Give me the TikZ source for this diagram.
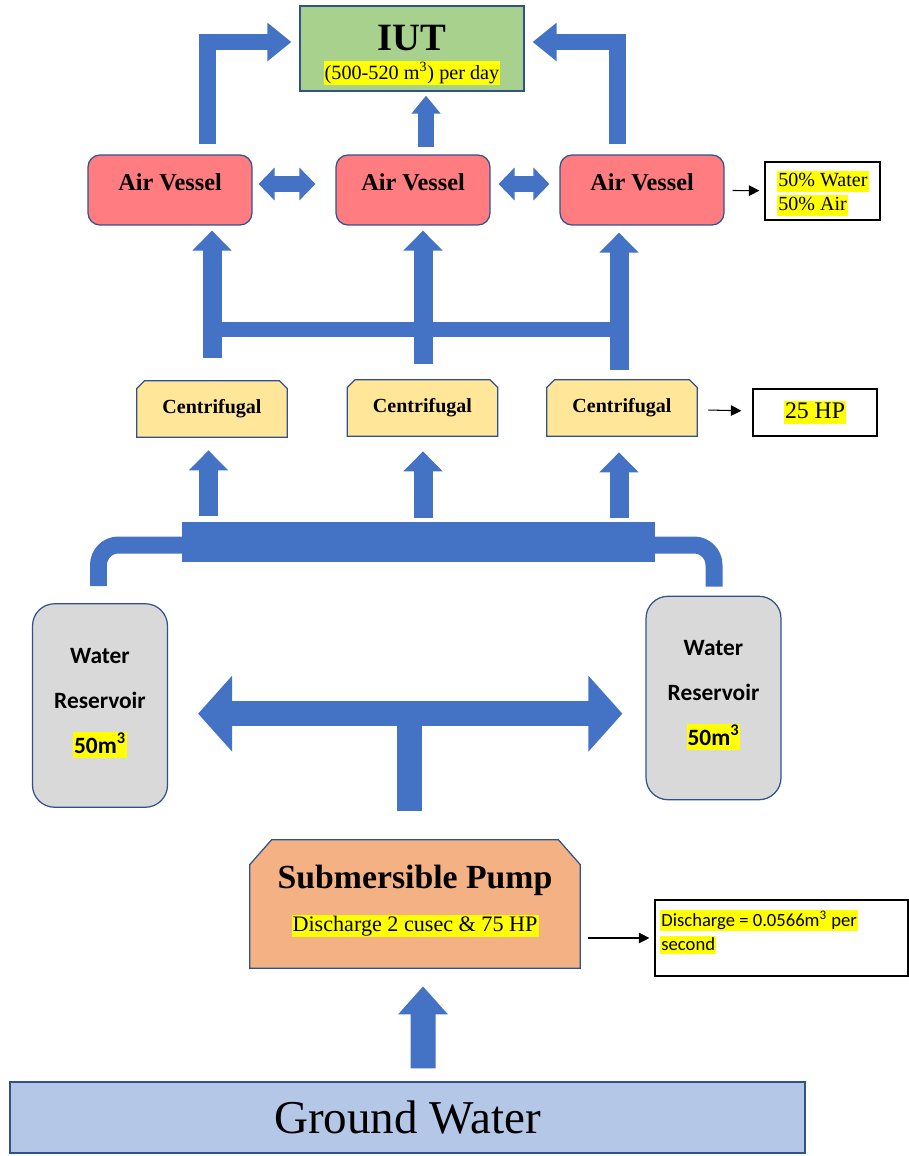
\documentclass[tikz,border=0pt]{standalone}
\usepackage{fontspec}
\setmainfont{Liberation Serif}
\newfontfamily\calibri{Carlito}
\usepackage{xcolor}
\usepackage{tikz}
\usetikzlibrary{arrows.meta,calc,positioning}
\pgfdeclarelayer{bg}
\pgfsetlayers{bg,main}

\definecolor{flowblue}{HTML}{4472C4}
\definecolor{edgeblue}{HTML}{2F528F}
\definecolor{iutgreen}{HTML}{A9D18E}
\definecolor{vesselred}{HTML}{FF7C80}
\definecolor{pumpyellow}{HTML}{FFE699}
\definecolor{tankgray}{HTML}{D9D9D9}
\definecolor{subsorange}{HTML}{F4B183}
\definecolor{groundblue}{HTML}{B4C7E7}
\definecolor{hlyellow}{HTML}{FFFF00}

\newcommand{\hlbox}[1]{{\setlength{\fboxsep}{0.6pt}\colorbox{hlyellow}{\vphantom{(}#1}}}

\tikzset{
  outline/.style={draw=edgeblue, line width=0.7pt},
  vessel/.style={outline, fill=vesselred, rounded corners=0.24cm, minimum height=1.4cm, inner sep=0pt, text height=10pt, text depth=9pt, font=\fontsize{13.8}{16}\selectfont\bfseries},
  pumpbody/.style={inner sep=0pt, minimum width=3cm, minimum height=1.08cm, font=\fontsize{11.4}{13}\selectfont\bfseries},
  tank/.style={outline, fill=tankgray, rounded corners=0.44cm, inner sep=0pt, minimum width=2.7cm, minimum height=4.07cm},
  notebox/.style={draw=black, line width=0.7pt, inner sep=0pt},
  pointer/.style={draw=black, line width=0.6pt, -{Triangle[length=6pt,width=6pt]}},
  pipeflow/.style={flowblue, line width=0.34cm},
  elbowflow/.style={flowblue, line width=0.34cm, line join=miter, -{Triangle[length=0.48cm,width=0.74cm]}},
  smallflow/.style={flowblue, line width=0.32cm, -{Triangle[length=0.36cm,width=0.56cm]}},
  linkflow/.style={flowblue, line width=0.32cm, {Triangle[length=0.32cm,width=0.64cm]}-{Triangle[length=0.32cm,width=0.64cm]}},
  riserflow/.style={flowblue, line width=0.38cm, -{Triangle[length=0.4cm,width=0.76cm]}},
  spreadflow/.style={flowblue, line width=0.5cm, -{Triangle[length=0.68cm,width=1.48cm]}},
  liftflow/.style={flowblue, line width=0.5cm, -{Triangle[length=0.56cm,width=0.96cm]}},
}

\begin{document}
\begin{tikzpicture}[x=0.02cm, y=-0.02cm]
		\useasboundingbox (0,0) rectangle (909,1156);

		%% Consumer on top
		\node[outline, fill=iutgreen, minimum width=4.48cm, minimum height=1.7cm] (iut) at (412,48.5) {};
		\node[font=\fontsize{22}{24}\selectfont\bfseries] (iutname) at (412,38) {IUT};
		\node[font=\fontsize{11.5}{13}\selectfont] (iutrate) at (412,73) {\hlbox{(500-520 m\textsuperscript{3}) per day}};

		%% Air vessels
		\node[vessel, minimum width=3.28cm] (av1) at (170,190) {Air Vessel};
		\node[vessel, minimum width=3.08cm] (av2) at (413,190) {Air Vessel};
		\node[vessel, minimum width=3.28cm] (av3) at (642,190) {Air Vessel};
		\node[notebox, minimum width=2.3cm, minimum height=1.16cm] (mix) at (822.5,191) {};
		\node[anchor=north west, align=left, inner sep=0pt, font=\fontsize{11.4}{13.6}\selectfont] (mixtxt) at (777,171) {\hlbox{50\% Water}\\\hlbox{50\% Air}};

		%% Centrifugal pumps
		\node[pumpbody] (cf1) at (212,409) {Centrifugal};
		\node[pumpbody] (cf2) at (422.5,408) {Centrifugal};
		\node[pumpbody] (cf3) at (622,408) {Centrifugal};
		\node[notebox, minimum width=2.48cm, minimum height=0.94cm, font=\fontsize{13.5}{16}\selectfont] (hp) at (815,412.5) {\hlbox{25 HP}};

		%% Header and reservoirs
		\node[fill=flowblue, inner sep=0pt, minimum width=9.46cm, minimum height=0.8cm] (header) at (418.5,542) {};
		\node[tank] (res1) at (100,705.5) {};
		\node[tank] (res2) at (713.5,698) {};
		\node[align=center, font=\calibri\fontsize{13.3}{25.5}\selectfont\bfseries] (res1txt) at (100,703) {Water\\Reservoir\\\hlbox{50m\textsuperscript{3}}};
		\node[align=center, font=\calibri\fontsize{13.3}{25.5}\selectfont\bfseries] (res2txt) at (713.5,695) {Water\\Reservoir\\\hlbox{50m\textsuperscript{3}}};

		%% Submersible pump
		\node[inner sep=0pt, minimum width=6.6cm, minimum height=2.56cm] (pump) at (415,904) {};
		\node[font=\fontsize{19.2}{22}\selectfont\bfseries] (pumpname) at (415,880) {Submersible Pump};
		\node[font=\fontsize{12.6}{15}\selectfont] (pumprate) at (415,926) {\hlbox{Discharge 2 cusec \& 75 HP}};
		\node[notebox, minimum width=5.06cm, minimum height=1.52cm] (flowrate) at (781.5,938) {};
		\node[anchor=north west, align=left, inner sep=0pt, font=\calibri\fontsize{10.6}{13.6}\selectfont] (flowtxt) at (660,910) {\hlbox{Discharge = 0.0566m\textsuperscript{3} per}\\\hlbox{second}};

		%% Source
		\node[outline, fill=groundblue, minimum width=15.9cm, minimum height=1.42cm, font=\fontsize{26.8}{30}\selectfont] (ground) at (407.5,1117.5) {Ground Water};

		%% Snipped boxes behind the texts
		\begin{pgfonlayer}{bg}
			\foreach \c in {cf1,cf2,cf3}
				\draw[outline, fill=pumpyellow] ($(\c.south west)+(0,1)$) -- ($(\c.north west)+(0,7)$) -- ($(\c.north west)+(8,-1)$)
					-- ($(\c.north east)+(-8,-1)$) -- ($(\c.north east)+(0,7)$) -- ($(\c.south east)+(0,1)$) -- cycle;
			\draw[outline, fill=subsorange] (pump.south west) -- ($(pump.north west)+(0,25)$) -- ($(pump.north west)+(22,0)$)
				-- ($(pump.north east)+(-22,0)$) -- ($(pump.north east)+(0,25)$) -- (pump.south east) -- cycle;
		\end{pgfonlayer}

		%% Water to the consumer
		\draw[elbowflow] ($(av1.north)+(37,-10)$) |- ($(iut.west)+(-8,-6.5)$);
		\draw[elbowflow] ($(av3.north)+(-24.5,-10)$) |- ($(iut.east)+(8,-6.5)$);
		\draw[smallflow] ($(av2.north)+(13,-7)$) -- ($(iut.south)+(14,4)$);
		\draw[linkflow] ($(av1.east)+(6,-6)$) -- ($(av2.west)+(-20,-6)$);
		\draw[linkflow] ($(av2.east)+(8,-6)$) -- ($(av3.west)+(-10,-6)$);

		% Centrifugal to air vessels
		\coordinate (bar) at ($(cf1.north)+(0,-52.5)$);
		\draw[flowblue, line width=0.3cm] (bar) -- (bar -| cf3.north);
		\draw[riserflow] ($(cf1.north)+(0,-24)$) -- ($(cf1.north |- av1.south)+(0,5)$);
		\draw[riserflow] ($(cf2.north)+(0.5,-17)$) -- ($(cf2.north |- av2.south)+(0.5,5)$);
		\draw[riserflow] ($(cf3.north)+(-3,-11)$) -- ($(cf3.north |- av3.south)+(-3,7)$);

		% Header to centrifugal
		\draw[riserflow] ($(cf1.south |- header.north)+(-3.5,-6)$) -- ($(cf1.south)+(-3.5,14)$);
		\draw[riserflow] ($(cf2.south |- header.north)+(0.5,-4)$) -- ($(cf2.south)+(0.5,16)$);
		\draw[riserflow] ($(cf3.south |- header.north)+(-3,-4)$) -- ($(cf3.south)+(-3,17)$);
		\draw[pipeflow, rounded corners=0.4cm] ($(res1.north)+(-1.5,-17)$) |- ($(header.west)+(2,3)$);
		\draw[pipeflow, rounded corners=0.4cm] ($(res2.north)+(0.5,-9)$) |- ($(header.east)+(-2,3)$);

		% Pump to reservoirs
		\coordinate (tee) at ($(pump.north)+(-5.5,-126)$);
		\draw[flowblue, line width=0.5cm] ($(pump.north)+(-5.5,-29)$) -- (tee);
		\draw[spreadflow] (tee) -- ($(res1.east |- tee)+(30,0)$);
		\draw[spreadflow] (tee) -- ($(res2.west |- tee)+(-23,0)$);
		\draw[liftflow] ($(ground.north)+(15.5,-13)$) -- ($(pump.south)+(8,18)$);

		% Notes
		\draw[pointer, shorten <=0.16cm, shorten >=0.1cm] (av3) -- (mix);
		\draw[pointer, shorten <=0.22cm, shorten >=0.22cm] (cf3) -- (hp);
		\draw[pointer, shorten <=0.16cm, shorten >=0.1cm] (pump.east |- flowrate.west) -- (flowrate.west);
\end{tikzpicture}
\end{document}
